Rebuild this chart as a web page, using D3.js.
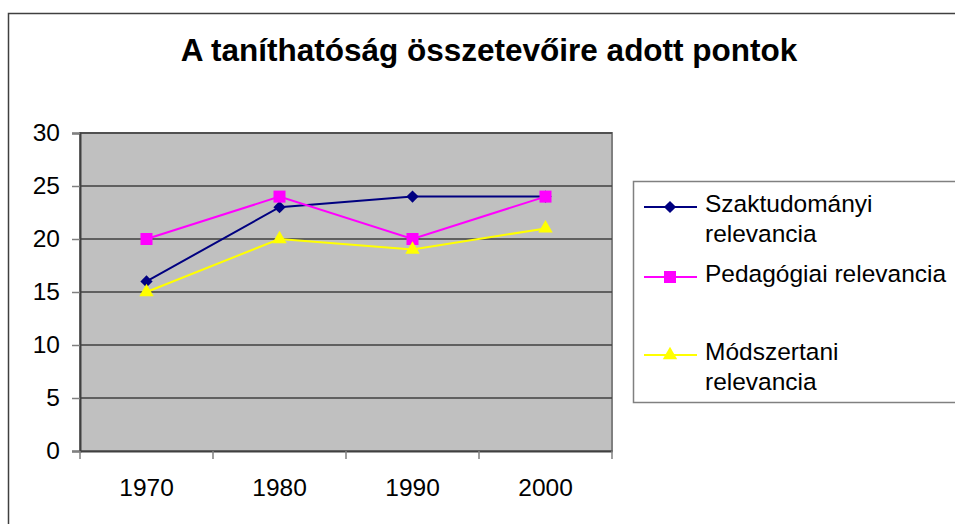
<!DOCTYPE html>
<html>
<head>
<meta charset="utf-8">
<script src="https://cdn.jsdelivr.net/npm/d3@7"></script>
<style>
  body { margin: 0; background: #fff; }
  svg { font-family: "Liberation Sans", Arial, sans-serif; }
</style>
</head>
<body>
<svg id="chart" width="955" height="524"></svg>
<script>
/******************************* Data *******************************/
var years = ["1970", "1980", "1990", "2000"];
var szaktudomanyi = [16, 23, 24, 24];
var pedagogiai = [20, 24, 20, 24];
var modszertani = [15, 20, 19, 21];
var yTicks = [0, 5, 10, 15, 20, 25, 30];

var series = [
  { name: ["Szaktudományi", "relevancia"], values: szaktudomanyi, color: "#000080", symbol: d3.symbolSquare, size: 75, rot: 45, ly: 207 },
  { name: ["Pedagógiai relevancia"], values: pedagogiai, color: "#FF00FF", symbol: d3.symbolSquare, size: 144, rot: 0, ly: 277 },
  { name: ["Módszertani", "relevancia"], values: modszertani, color: "#FFFF00", symbol: d3.symbolTriangle, size: 90, rot: 0, ly: 355 }
];

/******************************* Layout *******************************/
var svg = d3.select("#chart");
var plot = { left: 80, top: 133, right: 612, bottom: 451 };

// outer frame
svg.append("rect")
  .attr("x", 8.5).attr("y", 13.5)
  .attr("width", 960).attr("height", 530)
  .style("fill", "#fff").style("stroke", "#404040").style("stroke-width", 1.5);

svg.append("text")
  .attr("x", 489).attr("y", 61)
  .attr("text-anchor", "middle")
  .style("font-size", "31.5px").style("font-weight", "bold")
  .text("A taníthatóság összetevőire adott pontok");

var x = d3.scaleBand().domain(years).range([plot.left, plot.right]);
var y = d3.scaleLinear().domain([0, 30]).range([plot.bottom, plot.top]);

// plot area
svg.append("rect")
  .attr("x", plot.left).attr("y", plot.top)
  .attr("width", plot.right - plot.left).attr("height", plot.bottom - plot.top)
  .style("fill", "#C0C0C0").style("stroke", "#808080").style("stroke-width", 2);

// gridlines
svg.append("g").selectAll("line").data(yTicks.slice(1)).enter().append("line")
  .attr("x1", plot.left).attr("x2", plot.right)
  .attr("y1", function(d){ return y(d); }).attr("y2", function(d){ return y(d); })
  .style("stroke", "#404040").style("stroke-width", 1.5);

// y axis
var yAxis = svg.append("g")
  .attr("transform", "translate(" + plot.left + ",0)")
  .call(d3.axisLeft(y).tickValues(yTicks).tickSize(8).tickPadding(12));
yAxis.select(".domain").style("stroke", "#404040").style("stroke-width", 2);
yAxis.selectAll(".tick line").style("stroke", "#808080").style("stroke-width", 1.5);
yAxis.selectAll("text").style("font-size", "24.5px").style("fill", "#000")
  .style("font-family", "Liberation Sans, Arial, sans-serif");

// x axis
var xAxis = svg.append("g")
  .attr("transform", "translate(0," + plot.bottom + ")")
  .call(d3.axisBottom(x).tickSize(0).tickPadding(28));
xAxis.select(".domain").style("stroke", "#404040").style("stroke-width", 2);
xAxis.selectAll("text").style("font-size", "24.5px").style("fill", "#000")
  .style("font-family", "Liberation Sans, Arial, sans-serif");
// category dividers
svg.append("g").selectAll("line").data(years.concat(["end"])).enter().append("line")
  .attr("x1", function(d, i){ return plot.left + i * x.bandwidth(); })
  .attr("x2", function(d, i){ return plot.left + i * x.bandwidth(); })
  .attr("y1", plot.bottom).attr("y2", plot.bottom + 8)
  .style("stroke", "#808080").style("stroke-width", 1.5);

/******************************* Series *******************************/
var line = d3.line()
  .x(function(d, i){ return x(years[i]) + x.bandwidth() / 2; })
  .y(function(d){ return y(d); });

series.forEach(function(s) {
  svg.append("path").datum(s.values)
    .attr("d", line)
    .style("fill", "none").style("stroke", s.color).style("stroke-width", 2);
  svg.append("g").selectAll("path").data(s.values).enter().append("path")
    .attr("d", d3.symbol().type(s.symbol).size(s.size))
    .attr("transform", function(d, i){
      return "translate(" + (x(years[i]) + x.bandwidth() / 2) + "," + y(d) + ") rotate(" + s.rot + ")";
    })
    .style("fill", s.color);
});

/******************************* Legend *******************************/
svg.append("rect")
  .attr("x", 633.5).attr("y", 181.5)
  .attr("width", 340).attr("height", 221)
  .style("fill", "#fff").style("stroke", "#808080").style("stroke-width", 1.5);

series.forEach(function(s) {
  var g = svg.append("g");
  g.append("line")
    .attr("x1", 644).attr("x2", 697).attr("y1", s.ly).attr("y2", s.ly)
    .style("stroke", s.color).style("stroke-width", 2);
  g.append("path")
    .attr("d", d3.symbol().type(s.symbol).size(s.size))
    .attr("transform", "translate(670," + s.ly + ") rotate(" + s.rot + ")")
    .style("fill", s.color);
  var t = g.append("text")
    .attr("x", 705).attr("y", s.ly + 5)
    .style("font-size", "24.5px");
  s.name.forEach(function(part, i) {
    t.append("tspan").attr("x", 705).attr("dy", i === 0 ? 0 : 30).text(part);
  });
});
</script>
</body>
</html>
